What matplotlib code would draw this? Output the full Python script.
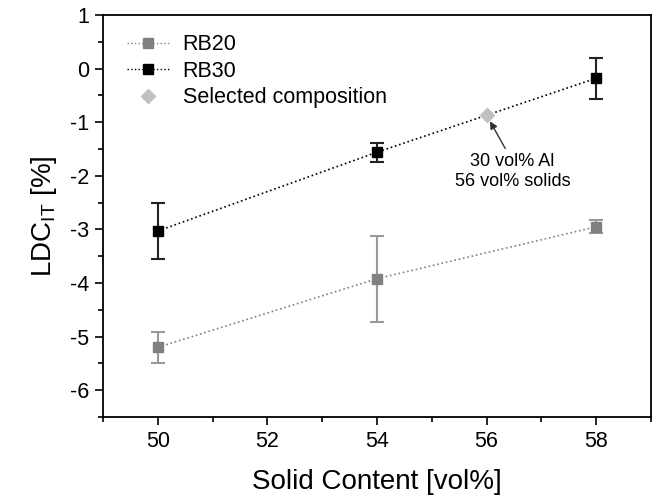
import matplotlib
matplotlib.use("Agg")
import matplotlib.pyplot as plt
from matplotlib.ticker import MultipleLocator, FuncFormatter
from matplotlib.lines import Line2D

plt.rcParams['font.family'] = ['Liberation Sans', 'DejaVu Sans']
plt.rcParams['mathtext.fontset'] = 'custom'
plt.rcParams['mathtext.rm'] = 'Liberation Sans'
plt.rcParams['mathtext.it'] = 'Liberation Sans'
plt.rcParams['axes.unicode_minus'] = False

solid = [50, 54, 58]
rb20 = [-5.20, -3.92, -2.95]
rb20_err = [0.29, 0.80, 0.12]
rb30 = [-3.03, -1.56, -0.18]
rb30_err = [0.52, 0.18, 0.38]
sel_x = [56]
sel_y = [-0.87]

c20 = '#808080'
c20e = '#9a9a9a'
c30 = 'black'
csel = '#c0c0c0'

fig = plt.figure(figsize=(6.56, 5.03), dpi=100)
ax = fig.add_axes([103/656, 1-417/503, (651-103)/656, (417-15)/503])

ax.errorbar(solid, rb20, yerr=rb20_err, color=c20, ecolor=c20e,
            marker='s', markersize=7.5, linestyle=':', linewidth=1.2,
            capsize=5, elinewidth=1.5, capthick=1.5)
ax.errorbar(solid, rb30, yerr=rb30_err, color=c30, ecolor='#222222',
            marker='s', markersize=7.5, linestyle=':', linewidth=1.2,
            capsize=5, elinewidth=1.5, capthick=1.5)
ax.plot(sel_x, sel_y, linestyle='none', marker='D', markersize=7.5,
        color=csel, zorder=5)

# arrow from below the label to the selected point
ax.annotate('', xy=(sel_x[0], sel_y[0]), xytext=(56.34, -1.49),
            textcoords='data',
            arrowprops=dict(arrowstyle='-|>', color='#333333', lw=1,
                            shrinkA=0, shrinkB=5, mutation_scale=11))
ax.text(56.47, -1.92, '30 vol% Al\n56 vol% solids', ha='center', va='center',
        fontsize=13, linespacing=1.25)

ax.set_xlim(49, 59)
ax.set_ylim(-6.5, 1)
ax.xaxis.set_major_locator(MultipleLocator(2))
ax.xaxis.set_minor_locator(MultipleLocator(1))
ax.yaxis.set_major_locator(MultipleLocator(1))
ax.yaxis.set_minor_locator(MultipleLocator(0.5))
ax.yaxis.set_major_formatter(FuncFormatter(lambda v, p: f'{v:.0f}'))
ax.tick_params(which='both', direction='out', top=False, right=False, width=1.2)
ax.tick_params(which='major', length=6, labelsize=15.5, pad=4)
ax.tick_params(which='minor', length=3.5)
for s in ax.spines.values():
    s.set_linewidth(1.3)

ax.set_xlabel('Solid Content [vol%]', fontsize=20, labelpad=12)
ax.set_ylabel('LDC$_{\\mathrm{IT}}$ [%]', fontsize=20, labelpad=8)

handles = [
    Line2D([], [], color=c20, marker='s', markersize=7, linestyle=':', linewidth=1),
    Line2D([], [], color=c30, marker='s', markersize=7, linestyle=':', linewidth=1),
    Line2D([], [], color=csel, marker='D', markersize=7, linestyle='none'),
]
labels = ['RB20', 'RB30', 'Selected composition']
ax.legend(handles, labels, loc='upper left', frameon=False, fontsize=15.5,
          handlelength=2.0, handletextpad=0.6, borderaxespad=0.5,
          labelspacing=0.25, bbox_to_anchor=(0.008, 1.0))

fig.savefig('out.png', dpi=100)
